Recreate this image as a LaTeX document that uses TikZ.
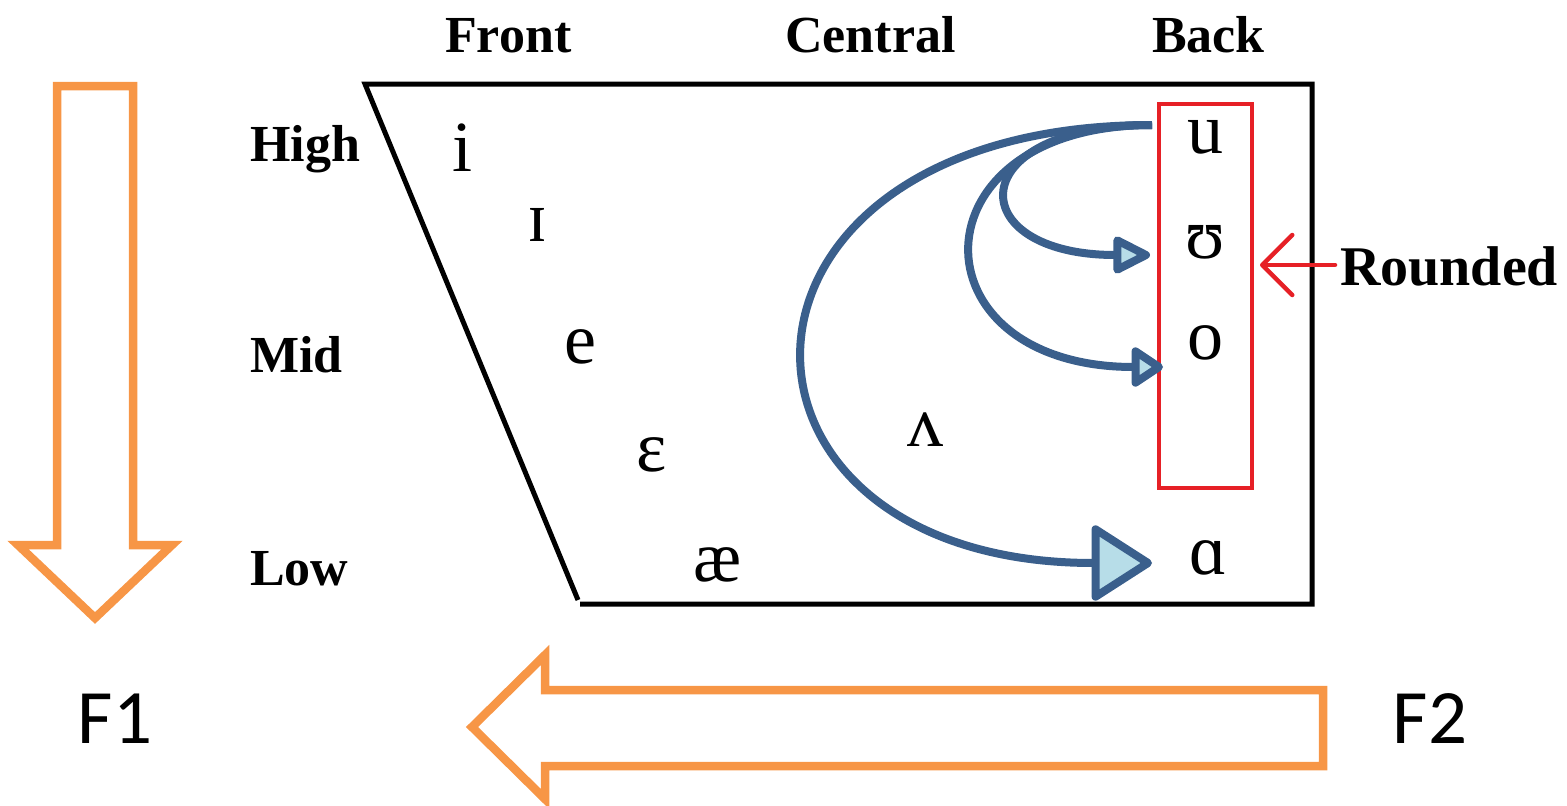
\documentclass[tikz,border=0pt]{standalone}
\usepackage{fontspec}
\setmainfont{Liberation Serif}
\newfontfamily\formantfont{Carlito}
\usetikzlibrary{arrows.meta, calc}
\definecolor{myorange}{RGB}{247,150,70}
\definecolor{myblue}{RGB}{58,95,140}
\definecolor{mylightblue}{RGB}{183,221,232}
\definecolor{myred}{RGB}{230,32,38}

\begin{document}
\begin{tikzpicture}[x=1pt, y=-1pt,
  headtxt/.style={font=\fontsize{52}{60}\selectfont\bfseries, inner sep=0pt, anchor=base west},
  vowel/.style={font=\fontsize{72}{80}\selectfont, inner sep=0pt},
  formant/.style={font=\formantfont\fontsize{77}{84}\selectfont, inner sep=0pt},
  hollow/.style={draw=myorange, line width=8.5pt, line join=miter},
  vshiftline/.style={draw=myblue, line width=8pt, line join=round}
]
\useasboundingbox (0,0) rectangle (1567,806);

% vowel space
\draw[line width=5pt] (578,600) -- (365,84) -- (1312,84) -- (1312,604) -- (580,604);

\node[headtxt] (front) at (445,52) {Front};
\node[headtxt] (central) at (785,52) {Central};
\node[headtxt] (back) at (1152,52) {Back};
\node[headtxt] (high) at (250,161) {High};
\node[headtxt] (mid) at (250,372) {Mid};
\node[headtxt] (low) at (250,585) {Low};

\node[vowel] (i) at (462,148) {i};
\node[vowel] (ih) at (537,225) {ɪ};
\node[vowel] (e) at (580,347) {e};
\node[vowel] (eh) at (652,455) {ɛ};
\node[vowel] (ae) at (718,565) {æ};
\node[vowel] (uh) at (925,430) {ʌ};
\node[vowel] (u) at (1205,137) {u};
\node[vowel] (uu) at (1205,242) {ʊ};
\node[vowel] (o) at (1205,343) {o};
\node[vowel] (aa) at (1208,558) {ɑ};

% rounded back vowels
\node[draw=myred, line width=3.5pt, minimum width=93pt, minimum height=384pt, inner sep=0pt] (rbox) at (1205.5,296) {};
\node[headtxt, font=\fontsize{56}{64}\selectfont\bfseries] (rounded) at (1340,285) {Rounded};
\draw[myred, line width=4.5pt, line cap=round, -{Straight Barb[length=30pt, width=60pt, round]}]
  ([xshift=-5pt]rounded.west |- 0,265) -- (1260,265);

% shifts from u
\coordinate (src) at ($(u.center)+(-53,-12)$);
\draw[vshiftline, -{Triangle[length=42pt, width=40pt, fill=mylightblue, round]}]
  (src) .. controls +(-192,0) and +(-190,0) .. ($(uu.center)+(-55,13)$);
\draw[vshiftline, -{Triangle[length=35pt, width=44pt, fill=mylightblue, round]}]
  (src) .. controls +(-242,0) and +(-253,0) .. ($(o.center)+(-42,24)$);
\draw[vshiftline, -{Triangle[length=64pt, width=80pt, fill=mylightblue, round]}]
  (src) .. controls +(-459,0) and +(-459,0) .. ($(aa.center)+(-56,5)$);

% formant arrows
\draw[hollow] (57,86) -- (133,86) -- (133,545) -- (172,545) -- (95,618) -- (18,545) -- (57,545) -- cycle;
\draw[hollow] (1323,690) -- (545,690) -- (545,655) -- (472,727) -- (545,799) -- (545,766) -- (1323,766) -- cycle;
\node[formant] (f1) at (115,719) {F1};
\node[formant] (f2) at (1430,719) {F2};
\end{tikzpicture}
\end{document}
